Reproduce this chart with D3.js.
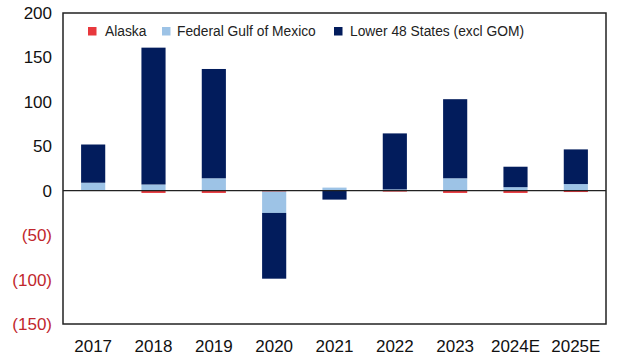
<!DOCTYPE html>
<html><head><meta charset="utf-8">
<script src="https://cdn.jsdelivr.net/npm/d3@7"></script>
<style>body{margin:0;background:#fff}svg{display:block}</style>
</head><body>
<svg id="c" width="619" height="360"></svg>
<script>
const categories = ["2017","2018","2019","2020","2021","2022","2023","2024E","2025E"];
const alaska  = [0, -2.5, -2.5, -1, 0, -1, -2.5, -2.5, -1.5];
const gom     = [9, 7, 14, -24, 3.5, 1.5, 14, 4, 7.5];
const lower48 = [43, 154, 123, -74, -10, 63, 89, 23, 39];
const seriesNames = ["Alaska","Federal Gulf of Mexico","Lower 48 States (excl GOM)"];
const seriesColors = ["#e8383d","#9dc3e6","#021c5c"];
const yTicks = [200,150,100,50,0,-50,-100,-150];

const svg = d3.select("#c");
const m = {l:63, t:13, r:606, b:324};
const x = d3.scaleBand().domain(categories).range([m.l, m.r]).paddingInner(0.6).paddingOuter(0.3);
const y = d3.scaleLinear().domain([-150,200]).range([m.b, m.t]);

const rows = categories.map((c,i)=>({cat:c, a:alaska[i], g:gom[i], l:lower48[i]}));
const stack = d3.stack().keys(["a","g","l"]).offset(d3.stackOffsetDiverging);
const layers = stack(rows);

layers.forEach((layer, k)=>{
  svg.append("g").selectAll("rect").data(layer).join("rect")
    .attr("x", d=>x(d.data.cat))
    .attr("width", x.bandwidth())
    .attr("y", d=>y(Math.max(d[0],d[1])))
    .attr("height", d=>Math.abs(y(d[0])-y(d[1])))
    .attr("fill", seriesColors[k]);
});

// zero line
svg.append("line").attr("x1",m.l).attr("x2",m.r).attr("y1",y(0)).attr("y2",y(0))
  .attr("stroke","#222").attr("stroke-width",1.2);

// frame
svg.append("rect").attr("x",m.l).attr("y",m.t).attr("width",m.r-m.l).attr("height",m.b-m.t)
  .attr("fill","none").attr("stroke","#222").attr("stroke-width",1.5);

// y axis
const yAxis = d3.axisLeft(y).tickValues(yTicks).tickSize(0).tickPadding(11)
  .tickFormat(v => v<0 ? "("+Math.abs(v)+")" : String(v));
const ya = svg.append("g").attr("transform",`translate(${m.l},0)`).call(yAxis);
ya.select(".domain").remove();
ya.selectAll("text").attr("font-family","Liberation Sans, Arial, sans-serif").attr("font-size",17)
  .attr("fill", d=> d<0 ? "#c1272d" : "#111");

// x axis
const xAxis = d3.axisBottom(x).tickSize(0).tickPadding(16);
const xa = svg.append("g").attr("transform",`translate(0,${m.b})`).call(xAxis);
xa.select(".domain").remove();
xa.selectAll("text").attr("font-family","Liberation Sans, Arial, sans-serif").attr("font-size",17).attr("fill","#111");

// legend
const legMarkX = [88, 162, 334];
const legTextX = [105, 177, 350];
const lg = svg.append("g");
seriesNames.forEach((n,i)=>{
  lg.append("rect").attr("x",legMarkX[i]).attr("y",27).attr("width",8.5).attr("height",8.5).attr("fill",seriesColors[i]);
  lg.append("text").attr("x",legTextX[i]).attr("y",36).text(n)
    .attr("font-family","Liberation Sans, Arial, sans-serif").attr("font-size",13.8).attr("fill","#222");
});
</script>
</body></html>
